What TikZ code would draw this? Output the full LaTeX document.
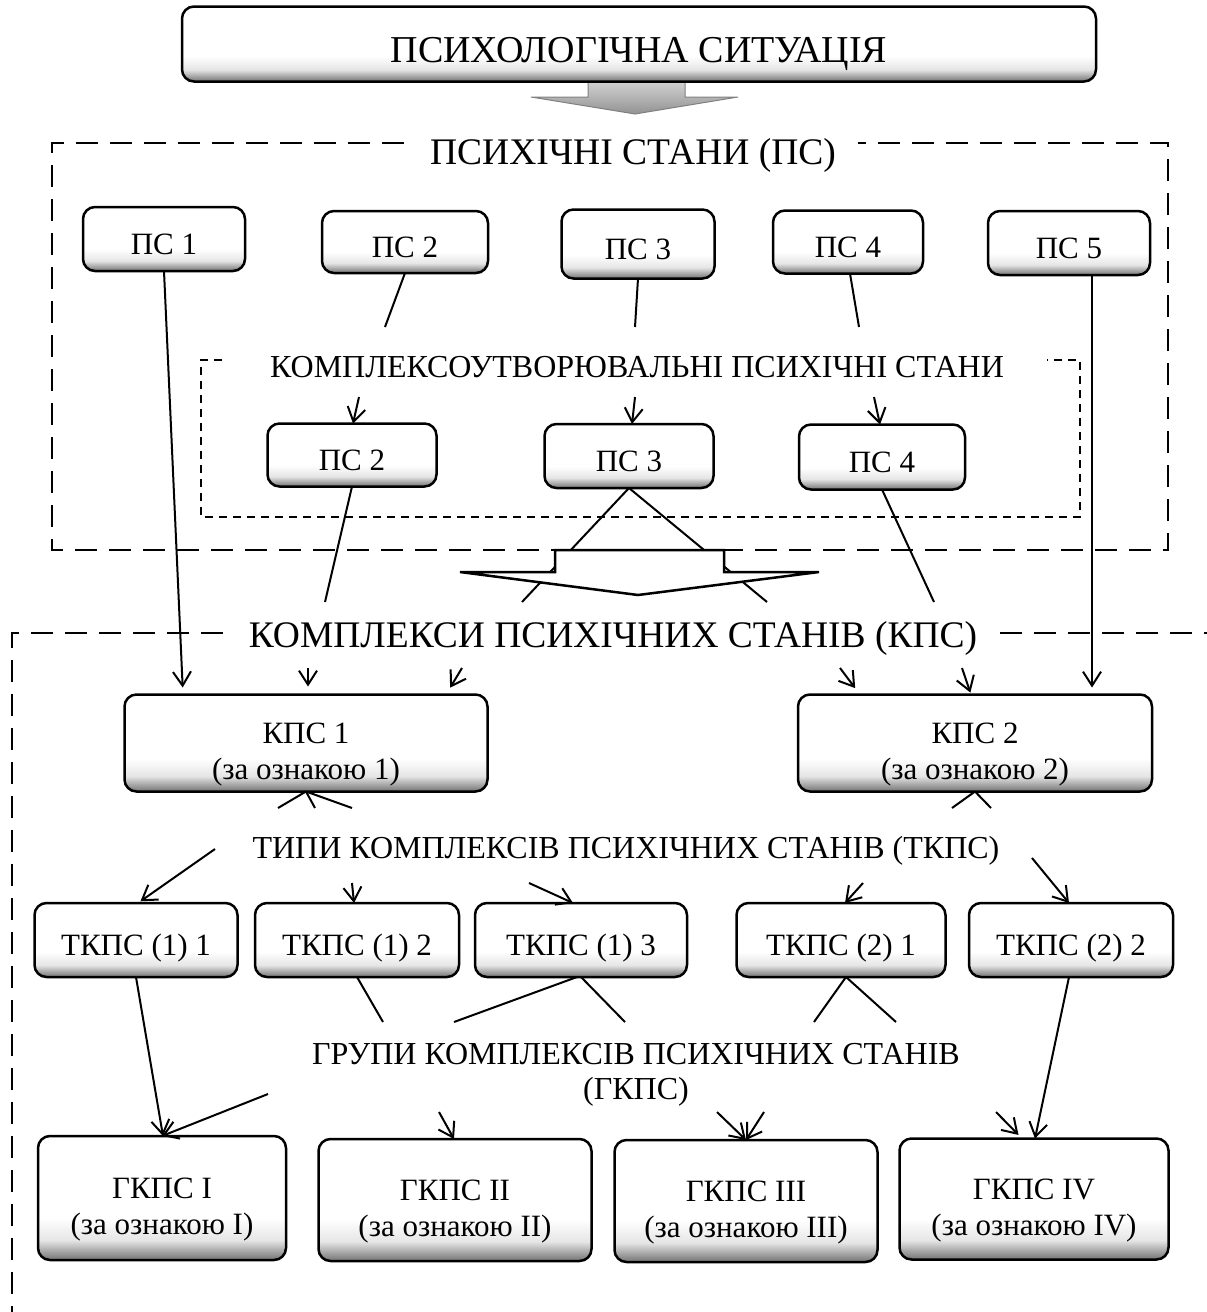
\documentclass[tikz,border=0pt]{standalone}
\usepackage{fontspec}
\setmainfont{Liberation Serif}
\usetikzlibrary{arrows.meta,positioning}
\pgfdeclareverticalshading{boxshade}{100bp}{color(0bp)=(black!55); color(25bp)=(black!55); color(33bp)=(black!10); color(42bp)=(white); color(100bp)=(white)}

\begin{document}
\begin{tikzpicture}[x=1pt,y=-1pt]
\tikzstyle{main}=[rectangle, rounded corners=12pt, draw=black, line width=2.5pt, shade, shading=boxshade, align=center, inner sep=0pt, outer sep=0pt, text height=31pt, text depth=0pt, font=\fontsize{31}{36}\selectfont]
\tikzstyle{twoline}=[text height=72pt, text depth=0pt]
\tikzstyle{title}=[inner sep=0pt, font=\fontsize{37.5}{42}\selectfont]
\tikzstyle{subtitle}=[inner sep=0pt, align=center, font=\fontsize{32}{35}\selectfont]
\tikzstyle{frame}=[line width=2.5pt, dash pattern=on 22pt off 12pt]
\tikzstyle{dotframe}=[line width=1.5pt, dash pattern=on 8pt off 6pt]
\tikzstyle{connect}=[line width=2pt]
\tikzstyle{connectto}=[line width=2pt, -{Straight Barb[length=14pt,width=18pt]}]
\useasboundingbox (0,0) rectangle (1207,1312);
% top arrow
\shade[top color=gray!30, bottom color=gray!85, draw=gray, line width=1pt] (588,78) -- (685,78) -- (685,97) -- (738,97) -- (635,114) -- (531,97) -- (588,97) -- cycle;
\node[main, minimum width=914pt, minimum height=75pt, text height=36pt, font=\fontsize{38}{42}\selectfont] (sit) at (639,44) {ПСИХОЛОГІЧНА СИТУАЦІЯ};
% frames
\draw[frame] (404,143) -- (52,143) -- (52,550) -- (1168,550) -- (1168,143) -- (858,143);
\draw[dotframe] (222,360) -- (201,360) -- (201,517) -- (1080,517) -- (1080,360) -- (1047,360);
\draw[frame] (223,633) -- (12,633) -- (12,1312);
\draw[frame] (1000,633) -- (1207,633);
\node[title] (psT) at (633,155) {ПСИХІЧНІ СТАНИ (ПС)};
\node[subtitle] (ipsT) at (637,367) {КОМПЛЕКСОУТВОРЮВАЛЬНІ ПСИХІЧНІ СТАНИ};
\node[title] (kpsT) at (613,638) {КОМПЛЕКСИ ПСИХІЧНИХ СТАНІВ (КПС)};
\node[subtitle] (tkpsT) at (626,851) {ТИПИ КОМПЛЕКСІВ ПСИХІЧНИХ СТАНІВ (ТКПС)};
\node[subtitle] (gkpsT) at (636,1075) {ГРУПИ КОМПЛЕКСІВ ПСИХІЧНИХ СТАНІВ\\(ГКПС)};
% psychic states
\node[main, minimum width=162pt, minimum height=64pt] (ps1) at (164,239) {ПС 1};
\node[main, minimum width=166pt, minimum height=62pt] (ps2) at (405,242) {ПС 2};
\node[main, minimum width=153pt, minimum height=69pt] (ps3) at (638,244) {ПС 3};
\node[main, minimum width=150pt, minimum height=63pt] (ps4) at (848,242) {ПС 4};
\node[main, minimum width=162pt, minimum height=64pt] (ps5) at (1069,243) {ПС 5};
\node[main, minimum width=169pt, minimum height=63pt] (ips2) at (352,455) {ПС 2};
\node[main, minimum width=169pt, minimum height=64pt] (ips3) at (629,456) {ПС 3};
\node[main, minimum width=166pt, minimum height=65pt] (ips4) at (882,457) {ПС 4};
% complexes
\node[main, twoline, minimum width=363pt, minimum height=97pt] (kps1) at (306,743) {КПС 1\\(за ознакою 1)};
\node[main, twoline, minimum width=354pt, minimum height=97pt] (kps2) at (975,743) {КПС 2\\(за ознакою 2)};
\node[main, minimum width=203pt, minimum height=74pt] (tk11) at (136,940) {ТКПС (1) 1};
\node[main, minimum width=204pt, minimum height=74pt] (tk12) at (357,940) {ТКПС (1) 2};
\node[main, minimum width=212pt, minimum height=74pt] (tk13) at (581,940) {ТКПС (1) 3};
\node[main, minimum width=209pt, minimum height=74pt] (tk21) at (841,940) {ТКПС (2) 1};
\node[main, minimum width=204pt, minimum height=74pt] (tk22) at (1071,940) {ТКПС (2) 2};
\node[main, twoline, minimum width=248pt, minimum height=124pt] (g1) at (162,1198) {ГКПС I\\(за ознакою I)};
\node[main, twoline, minimum width=273pt, minimum height=122pt] (g2) at (455,1200) {ГКПС II\\(за ознакою II)};
\node[main, twoline, minimum width=263pt, minimum height=122pt] (g3) at (746,1201) {ГКПС III\\(за ознакою III)};
\node[main, twoline, minimum width=269pt, minimum height=121pt] (g4) at (1034,1199) {ГКПС IV\\(за ознакою IV)};
% break points at the titles
\coordinate (c2a) at (385,327); \coordinate (c2b) at (359,397);
\coordinate (c3a) at (635,327); \coordinate (c3b) at (635,397);
\coordinate (c4a) at (859,327); \coordinate (c4b) at (874,397);
\coordinate (c5a) at (325,602); \coordinate (c5b) at (308,668);
\coordinate (c6a) at (522,602); \coordinate (c6b) at (462,668);
\coordinate (c7a) at (767,602); \coordinate (c7b) at (840,668);
\coordinate (c8a) at (934,602); \coordinate (c8b) at (962,668);
\coordinate (d1a) at (278,808); \coordinate (d1b) at (215,849);
\coordinate (d2a) at (315,808); \coordinate (d2b) at (352,883);
\coordinate (d3a) at (352,808); \coordinate (d3b) at (529,883);
\coordinate (d4a) at (952,808); \coordinate (d4b) at (863,883);
\coordinate (d5a) at (991,808); \coordinate (d5b) at (1032,858);
\coordinate (e1a) at (383,1022); \coordinate (e1b) at (439,1112);
\coordinate (e2a) at (454,1022); \coordinate (e2b) at (268,1094);
\coordinate (e3a) at (625,1022); \coordinate (e3b) at (717,1112);
\coordinate (e4a) at (814,1022); \coordinate (e4b) at (764,1112);
\coordinate (e5a) at (896,1022); \coordinate (e5b) at (996,1112);
\path (ps1.south) edge[connectto, shorten >=7pt] ([xshift=-123pt]kps1.north)
      (ps2.south) edge[connect] (c2a)
      (c2b) edge[connectto] ([xshift=1pt]ips2.north)
      (ps3.south) edge[connect] (c3a)
      (c3b) edge[connectto] ([xshift=3pt]ips3.north)
      ([xshift=2pt]ps4.south) edge[connect] (c4a)
      (c4b) edge[connectto] ([xshift=-2pt]ips4.north)
      ([xshift=23pt]ps5.south) edge[connectto, shorten >=7pt] ([xshift=117pt]kps2.north)
      (ips2.south) edge[connect] (c5a)
      (ips3.south) edge[connect] (c6a)
      (ips3.south) edge[connect] (c7a)
      (ips4.south) edge[connect] (c8a);
% arrow into the complexes
\draw[line width=2.5pt, fill=white] (555,550) -- (724,550) -- (724,572) -- (819,572) -- (638,595) -- (460,572) -- (555,572) -- cycle;
\path (c5b) edge[connectto, shorten >=8pt] ([xshift=2pt]kps1.north)
      (c6b) edge[connectto, shorten >=8pt] ([xshift=140pt]kps1.north)
      (c7b) edge[connectto, shorten >=8pt] ([xshift=-115pt]kps2.north)
      (c8b) edge[connectto, shorten >=2pt] ([xshift=-4pt]kps2.north)
      (kps1.south) edge[connect] (d1a)
      (kps1.south) edge[connect] (d2a)
      (kps1.south) edge[connect] (d3a)
      (kps2.south) edge[connect] (d4a)
      (kps2.south) edge[connect] (d5a)
      (d1b) edge[connectto, shorten >=3pt] ([xshift=2pt]tk11.north)
      (d2b) edge[connectto] ([xshift=-3pt]tk12.north)
      (d3b) edge[connectto] ([xshift=-8pt]tk13.north)
      (d4b) edge[connectto] ([xshift=4pt]tk21.north)
      (d5b) edge[connectto] ([xshift=-2pt]tk22.north)
      (tk11.south) edge[connectto] ([xshift=1pt]g1.north)
      (tk12.south) edge[connect] (e1a)
      ([xshift=-4pt]tk13.south) edge[connect] (e2a)
      (tk13.south) edge[connect] (e3a)
      ([xshift=5pt]tk21.south) edge[connect] (e4a)
      ([xshift=5pt]tk21.south) edge[connect] (e5a)
      ([xshift=-2pt]tk22.south) edge[connectto] ([xshift=1pt]g4.north)
      (e2b) edge[connectto] (g1.north)
      (e1b) edge[connectto] ([xshift=-1pt]g2.north)
      (e3b) edge[connectto] (g3.north)
      (e4b) edge[connectto] (g3.north)
      (e5b) edge[connectto, shorten >=5pt] ([xshift=-12pt]g4.north);
\end{tikzpicture}
\end{document}
